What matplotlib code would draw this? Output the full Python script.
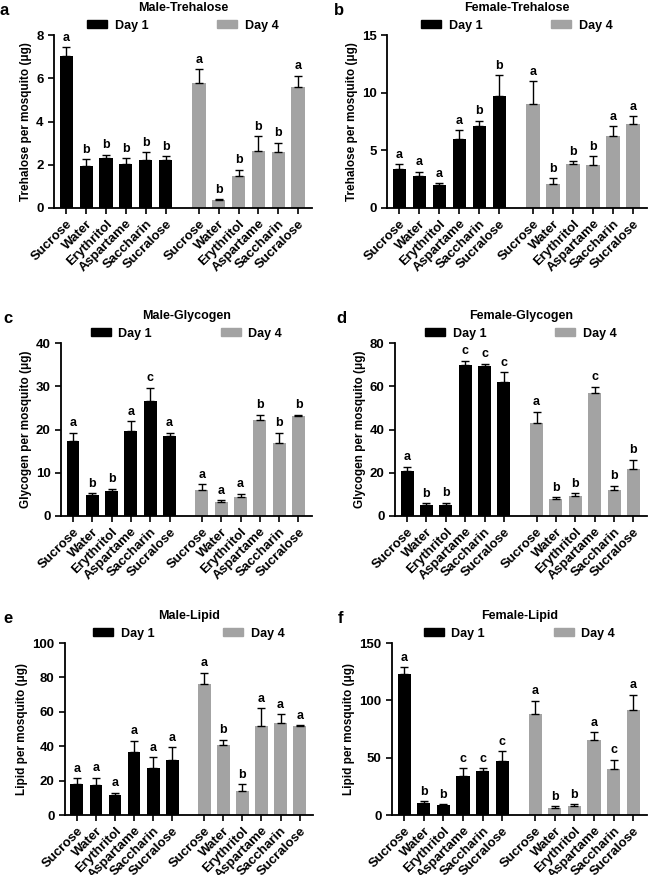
import numpy as np
from matplotlib import pyplot as plt
from matplotlib.patches import Patch

plt.rcParams['font.family'] = ['Liberation Sans', 'DejaVu Sans']
plt.rcParams['font.weight'] = 'bold'
plt.rcParams['axes.labelweight'] = 'bold'
plt.rcParams['axes.titleweight'] = 'bold'

sugars = ['Sucrose', 'Water', 'Erythritol', 'Aspartame', 'Saccharin', 'Sucralose']

# Male-Trehalose
mt_d1 = [7.03, 1.95, 2.3, 2.05, 2.22, 2.2]
mt_d1_err = [0.4, 0.3, 0.16, 0.24, 0.36, 0.2]
mt_d4 = [5.8, 0.37, 1.48, 2.62, 2.57, 5.6]
mt_d4_err = [0.62, 0.03, 0.3, 0.7, 0.45, 0.52]
mt_let = ['a', 'b', 'b', 'b', 'b', 'b', 'a', 'b', 'b', 'b', 'b', 'a']

# Female-Trehalose
ft_d1 = [3.36, 2.75, 2.0, 6.0, 7.1, 9.7]
ft_d1_err = [0.42, 0.4, 0.15, 0.75, 0.45, 1.8]
ft_d4 = [9.05, 2.1, 3.8, 3.7, 6.2, 7.25]
ft_d4_err = [1.95, 0.5, 0.25, 0.8, 0.9, 0.7]
ft_let = ['a', 'a', 'a', 'a', 'b', 'b', 'a', 'b', 'b', 'b', 'a', 'a']

# Male-Glycogen
mg_d1 = [17.4, 4.8, 5.8, 19.7, 26.6, 18.6]
mg_d1_err = [1.9, 0.5, 0.5, 2.2, 3.1, 0.6]
mg_d4 = [6.0, 3.2, 4.5, 22.2, 16.8, 23.2]
mg_d4_err = [1.4, 0.4, 0.6, 1.2, 2.5, 0.2]
mg_let = ['a', 'b', 'b', 'a', 'c', 'a', 'a', 'a', 'a', 'b', 'b', 'b']

# Female-Glycogen
fg_d1 = [20.7, 5.3, 5.3, 69.8, 69.5, 62.0]
fg_d1_err = [2.0, 0.6, 0.8, 2.0, 1.0, 4.5]
fg_d4 = [42.8, 8.0, 9.3, 57.0, 11.9, 21.8]
fg_d4_err = [5.5, 0.7, 1.3, 2.8, 2.1, 4.2]
fg_let = ['a', 'b', 'b', 'c', 'c', 'c', 'a', 'b', 'b', 'c', 'b', 'b']

# Male-Lipid
ml_d1 = [18.3, 17.3, 11.8, 36.5, 27.6, 32.0]
ml_d1_err = [3.0, 4.3, 1.2, 6.8, 6.0, 7.4]
ml_d4 = [76.0, 40.8, 14.2, 52.0, 53.6, 51.9]
ml_d4_err = [6.8, 3.0, 3.8, 10.0, 5.0, 0.3]
ml_let = ['a', 'a', 'a', 'a', 'a', 'a', 'a', 'b', 'b', 'a', 'a', 'a']

# Female-Lipid
fl_d1 = [123.0, 10.4, 8.4, 34.4, 38.0, 47.4]
fl_d1_err = [6.0, 1.5, 1.2, 6.6, 2.8, 8.4]
fl_d4 = [88.0, 5.8, 8.1, 65.0, 40.0, 91.5]
fl_d4_err = [11.5, 1.8, 1.2, 7.2, 8.3, 13.5]
fl_let = ['a', 'b', 'b', 'c', 'c', 'c', 'a', 'b', 'b', 'a', 'c', 'a']

panels = [
    ('a', 'Male-Trehalose', 'Trehalose per mosquito (\u03bcg)', mt_d1, mt_d1_err, mt_d4, mt_d4_err, mt_let, 8, 2),
    ('b', 'Female-Trehalose', 'Trehalose per mosquito (\u03bcg)', ft_d1, ft_d1_err, ft_d4, ft_d4_err, ft_let, 15, 5),
    ('c', 'Male-Glycogen', 'Glycogen per mosquito (\u03bcg)', mg_d1, mg_d1_err, mg_d4, mg_d4_err, mg_let, 40, 10),
    ('d', 'Female-Glycogen', 'Glycogen per mosquito (\u03bcg)', fg_d1, fg_d1_err, fg_d4, fg_d4_err, fg_let, 80, 20),
    ('e', 'Male-Lipid', 'Lipid per mosquito (\u03bcg)', ml_d1, ml_d1_err, ml_d4, ml_d4_err, ml_let, 100, 20),
    ('f', 'Female-Lipid', 'Lipid per mosquito (\u03bcg)', fl_d1, fl_d1_err, fl_d4, fl_d4_err, fl_let, 150, 50),
]

# pixel boxes: left, right, top, bottom
boxes = [(54, 312, 35, 208), (387, 647, 35, 208),
         (61, 312, 343, 516), (395, 647, 343, 516),
         (65, 313, 643, 815), (392, 647, 643, 815)]
label_x = [0, 334, 3, 336, 3, 338]

W, H = 648, 875
fig = plt.figure(figsize=(W / 100, H / 100), dpi=100)

black = '#000000'
gray = '#a3a3a3'
x1 = np.arange(6)
x4 = np.arange(6) + 6.68
bw = 0.67

for (lab, title, ylab, d1, e1, d4, e4, lets, ymax, step), (l, r, t, b), lx in zip(panels, boxes, label_x):
    ax = fig.add_axes([l / W, 1 - b / H, (r - l) / W, (b - t) / H])
    ax.bar(x1, d1, bw, color=black, yerr=[np.zeros(6), e1], capsize=3,
           error_kw=dict(elinewidth=1, capthick=1, ecolor=black))
    ax.bar(x4, d4, bw, color=gray, yerr=[np.zeros(6), e4], capsize=3,
           error_kw=dict(elinewidth=1, capthick=1, ecolor=black))
    xs = np.concatenate([x1, x4])
    tops = np.concatenate([np.array(d1) + np.array(e1), np.array(d4) + np.array(e4)])
    for xv, tv, s in zip(xs, tops, lets):
        ax.text(xv, tv + ymax * 0.02, s, ha='center', va='bottom', fontsize=9, fontweight='bold')
    ax.set_xlim(-0.62, 12.38)
    ax.set_ylim(0, ymax)
    ax.set_yticks(np.arange(0, ymax + 0.01, step))
    ax.set_xticks(xs)
    ax.set_xticklabels(sugars + sugars, rotation=45, ha='right', va='top',
                       rotation_mode='anchor', fontsize=9.5, fontweight='bold')
    ax.tick_params(axis='both', direction='out', length=4, width=1.2, labelsize=9.5)
    ax.tick_params(axis='x', pad=3)
    for s in ['top', 'right']:
        ax.spines[s].set_visible(False)
    for s in ['left', 'bottom']:
        ax.spines[s].set_linewidth(1.3)
    ax.set_ylabel(ylab, fontsize=8.5, fontweight='bold', labelpad=3)
    ax.set_title(title, fontsize=9, fontweight='bold', pad=17)
    handles = [Patch(color=black, label='Day 1'), Patch(color=gray, label='Day 4')]
    ax.legend(handles=handles, ncol=2, loc='lower center', bbox_to_anchor=(0.5, 0.99),
              frameon=False, fontsize=9, handlelength=1.6, handleheight=0.6,
              columnspacing=5.5, handletextpad=0.6, borderaxespad=0.0)
    fig.text(lx / W, 1 - (t - 32) / H, lab, fontsize=12, fontweight='bold', va='top', ha='left')

fig.savefig('out.png', dpi=100)
